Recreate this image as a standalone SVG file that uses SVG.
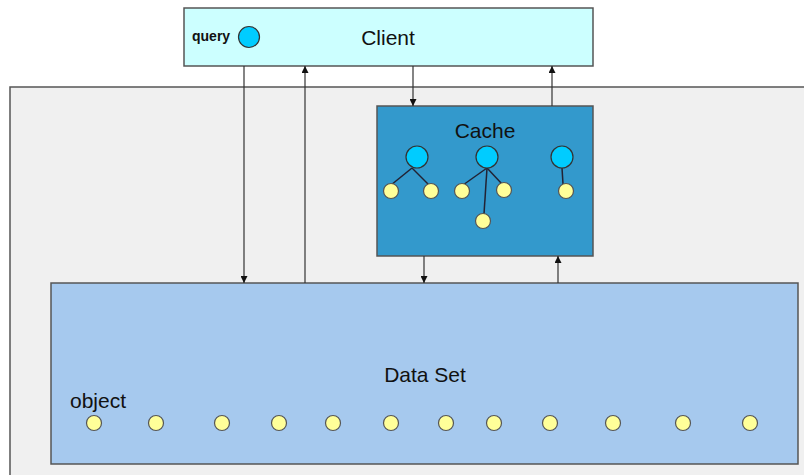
<svg xmlns="http://www.w3.org/2000/svg" width="804" height="475" viewBox="0 0 804 475">
<style>
.box{stroke:#555;stroke-width:1.5}
.lbl{font-family:"Liberation Sans",Arial,sans-serif;fill:#111}
.conn line{stroke:#333;stroke-width:1.2}
.b{fill:#00CCFF;stroke:#333;stroke-width:1.2}
.y{fill:#FFFF99;stroke:#555;stroke-width:1.2}
.t{stroke:#223;stroke-width:1.5}
</style>
<defs>
<marker id="ah" viewBox="0 0 10 10" refX="10" refY="5" markerWidth="7" markerHeight="7" markerUnits="userSpaceOnUse" orient="auto">
<path d="M0,0 L10,5 L0,10 z" fill="#111"/>
</marker>
</defs>
<rect width="804" height="475" fill="#ffffff"/>
<g id="background">
<rect class="box" x="10" y="87" width="800" height="400" fill="#F0F0F0"/>
</g>
<g id="client">
<rect class="box" x="184" y="8" width="409" height="58" fill="#CCFFFF"/>
<text class="lbl" x="388" y="45" font-size="21" text-anchor="middle">Client</text>
<text class="lbl" x="192" y="41" font-size="14" font-weight="bold">query</text>
<circle class="b" cx="249" cy="37" r="10.5"/>
</g>
<g id="cache">
<rect class="box" x="377" y="106" width="216" height="150" fill="#3399CC"/>
<text class="lbl" x="485" y="138" font-size="21" text-anchor="middle">Cache</text>
<line class="t" x1="412" y1="168" x2="391" y2="185"/>
<line class="t" x1="412" y1="168" x2="429" y2="185"/>
<line class="t" x1="487" y1="168" x2="463" y2="185"/>
<line class="t" x1="487" y1="168" x2="502" y2="184"/>
<line class="t" x1="487" y1="168" x2="484" y2="214"/>
<line class="t" x1="562" y1="168" x2="563" y2="184"/>
<circle class="b" cx="417" cy="157" r="11"/>
<circle class="b" cx="487" cy="157" r="11"/>
<circle class="b" cx="562" cy="157" r="11"/>
<circle class="y" cx="391" cy="191" r="7.5"/>
<circle class="y" cx="431" cy="191" r="7.5"/>
<circle class="y" cx="462" cy="191" r="7.5"/>
<circle class="y" cx="504" cy="190" r="7.5"/>
<circle class="y" cx="483" cy="221" r="7.5"/>
<circle class="y" cx="566" cy="191" r="7.5"/>
</g>
<g id="dataset">
<rect class="box" x="51" y="283" width="747" height="181" fill="#A6C9EE"/>
<text class="lbl" x="425" y="382" font-size="21" text-anchor="middle">Data Set</text>
<text class="lbl" x="70" y="408" font-size="21">object</text>
<circle class="y" cx="94" cy="423" r="7.5"/>
<circle class="y" cx="156" cy="423" r="7.5"/>
<circle class="y" cx="222" cy="423" r="7.5"/>
<circle class="y" cx="279" cy="423" r="7.5"/>
<circle class="y" cx="333" cy="423" r="7.5"/>
<circle class="y" cx="391" cy="423" r="7.5"/>
<circle class="y" cx="446" cy="423" r="7.5"/>
<circle class="y" cx="494" cy="423" r="7.5"/>
<circle class="y" cx="550" cy="423" r="7.5"/>
<circle class="y" cx="613" cy="423" r="7.5"/>
<circle class="y" cx="683" cy="423" r="7.5"/>
<circle class="y" cx="750" cy="423" r="7.5"/>
</g>
<g id="connectors" class="conn">
<line x1="244" y1="66" x2="244" y2="283" marker-end="url(#ah)"/>
<line x1="305" y1="283" x2="305" y2="66" marker-end="url(#ah)"/>
<line x1="413" y1="66" x2="413" y2="106" marker-end="url(#ah)"/>
<line x1="552" y1="106" x2="552" y2="66" marker-end="url(#ah)"/>
<line x1="424" y1="256" x2="424" y2="283" marker-end="url(#ah)"/>
<line x1="558" y1="283" x2="558" y2="256" marker-end="url(#ah)"/>
</g>
</svg>
